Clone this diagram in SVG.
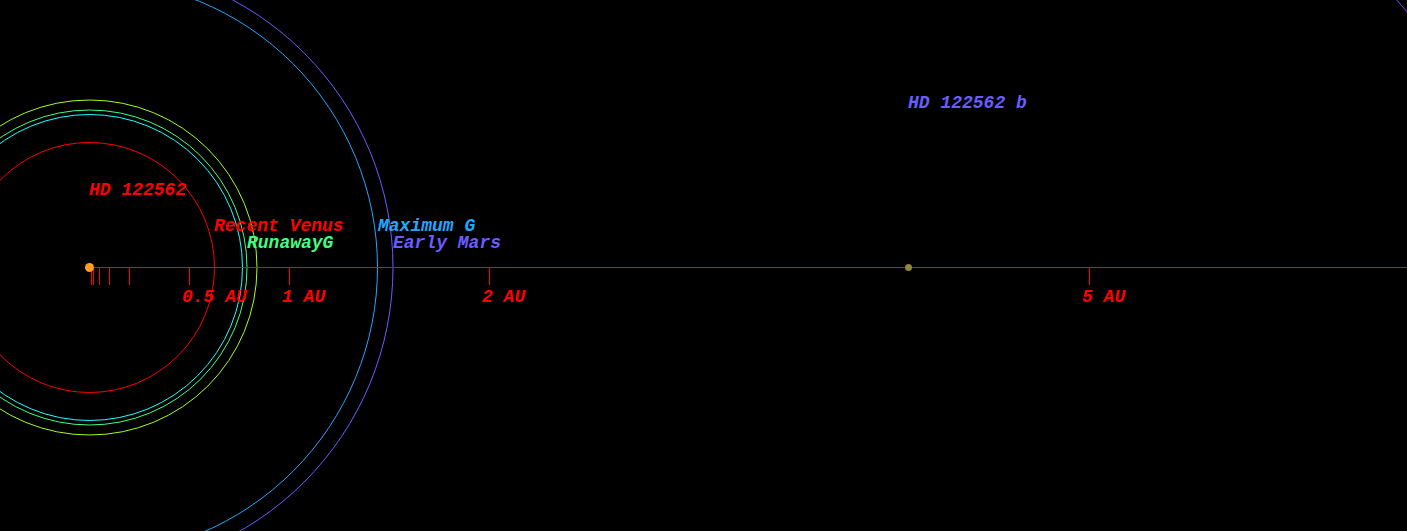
<svg xmlns="http://www.w3.org/2000/svg" width="1407" height="531" viewBox="0 0 1407 531">
<style>
text{font-family:"Liberation Mono","Courier New",monospace;font-style:italic;font-weight:bold;font-size:18px}
.orb{fill:none;stroke-width:1}
.tick{stroke:#ff0000;stroke-width:1}
</style>
<rect width="1407" height="531" fill="#000"/>
<g id="orbits">
<circle class="orb" cx="89.5" cy="267.5" r="125" stroke="#ff0000"/>
<circle class="orb" cx="89.5" cy="267.5" r="153" stroke="#20ffff"/>
<circle class="orb" cx="89.5" cy="267.5" r="157.5" stroke="#40ff80"/>
<circle class="orb" cx="89.5" cy="267.5" r="167.5" stroke="#a0ff20"/>
<circle class="orb" cx="89.5" cy="267.5" r="288" stroke="#20a8ff"/>
<circle class="orb" cx="89.5" cy="267.5" r="303.5" stroke="#6a5cff"/>
<path class="orb" d="M1395,-2 Q1401,5 1409,14" stroke="#8040ff"/>
</g>
<g id="axis">
<line class="tick" x1="89" y1="267.5" x2="1407" y2="267.5"/>
<line class="tick" x1="91.5" y1="267" x2="91.5" y2="285"/>
<line class="tick" x1="93.5" y1="267" x2="93.5" y2="285"/>
<line class="tick" x1="99.5" y1="267" x2="99.5" y2="285"/>
<line class="tick" x1="109.5" y1="267" x2="109.5" y2="285"/>
<line class="tick" x1="129.5" y1="267" x2="129.5" y2="285"/>
<line class="tick" x1="189.5" y1="267" x2="189.5" y2="285"/>
<line class="tick" x1="289.5" y1="267" x2="289.5" y2="285"/>
<line class="tick" x1="489.5" y1="267" x2="489.5" y2="285"/>
<line class="tick" x1="1089.5" y1="267" x2="1089.5" y2="285"/>
<text x="182" y="302" fill="#ff0000">0.5 AU</text>
<text x="282" y="302" fill="#ff0000">1 AU</text>
<text x="482" y="302" fill="#ff0000">2 AU</text>
<text x="1082" y="302" fill="#ff0000">5 AU</text>
</g>
<g id="star">
<circle cx="89.5" cy="267.5" r="4.5" fill="#ffa020"/>
<text x="89" y="195" fill="#ff0000">HD 122562</text>
</g>
<g id="zone-labels">
<text x="214" y="231" fill="#ff0000">Recent Venus</text>
<text x="247" y="248" fill="#40ff80">RunawayG</text>
<text x="378" y="231" fill="#20a8ff">Maximum G</text>
<text x="393" y="248" fill="#6a5cff">Early Mars</text>
</g>
<g id="planet">
<circle cx="908.5" cy="267.5" r="3.5" fill="#8a8a3a"/>
<text x="908" y="108" fill="#6a5cff">HD 122562 b</text>
</g>
</svg>
